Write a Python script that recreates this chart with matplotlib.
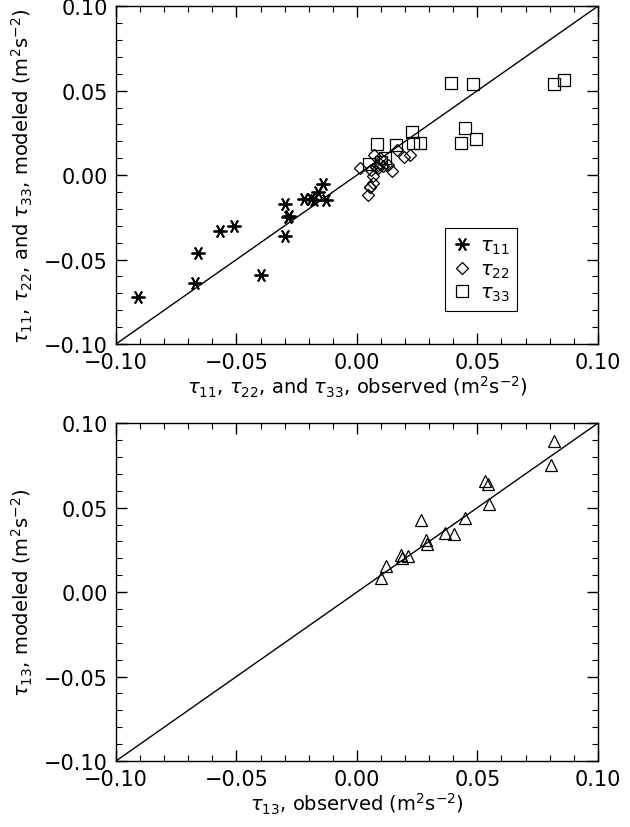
import matplotlib
matplotlib.use("Agg")
import matplotlib.pyplot as plt
from matplotlib.ticker import MultipleLocator

# tau_11, tau_22, tau_33: observed vs modeled
x11 = [-0.091, -0.067, -0.066, -0.057, -0.051, -0.040, -0.030, -0.030,
       -0.0285, -0.028, -0.022, -0.019, -0.018, -0.016, -0.014, -0.013]
y11 = [-0.072, -0.064, -0.046, -0.033, -0.030, -0.059, -0.036, -0.017,
       -0.025, -0.024, -0.014, -0.014, -0.015, -0.010, -0.0055, -0.015]

x22 = [0.0014, 0.007, 0.0058, 0.0068, 0.0065, 0.0054, 0.0047, 0.0055, 0.0079,
       0.0095, 0.0109, 0.013, 0.0144, 0.0168, 0.0195, 0.022, 0.0095, 0.0088]
y22 = [0.0045, 0.0118, 0.0031, -0.0004, -0.0047, -0.0073, -0.0117, -0.0068,
       0.0051, 0.0065, 0.0055, 0.0059, 0.0024, 0.0148, 0.0107, 0.012, 0.0099, 0.0040]

x33 = [0.039, 0.048, 0.082, 0.086, 0.045, 0.0433, 0.0495, 0.023, 0.0234,
       0.0263, 0.0164, 0.0084, 0.005, 0.0116, 0.0102]
y33 = [0.0544, 0.054, 0.054, 0.0564, 0.0278, 0.0193, 0.0211, 0.0253, 0.0189,
       0.0189, 0.0179, 0.0185, 0.0067, 0.0099, 0.0075]

# tau_13
x13 = [0.0816, 0.0805, 0.053, 0.0544, 0.0548, 0.0447, 0.0264, 0.0367,
       0.0403, 0.0285, 0.0289, 0.0185, 0.0213, 0.0189, 0.0121, 0.0102]
y13 = [0.0895, 0.0753, 0.0655, 0.0639, 0.052, 0.0436, 0.0426, 0.0349,
       0.0341, 0.031, 0.0282, 0.0219, 0.0215, 0.0199, 0.0156, 0.0081]

lims = [-0.10, 0.10]
ticks = [-0.10, -0.05, 0.00, 0.05, 0.10]
tick_labels = ["\u22120.10", "\u22120.05", "0.00", "0.05", "0.10"]
unit = r"(m$^2$s$^{-2}$)"

plt.rcParams["font.family"] = "DejaVu Sans"
plt.rcParams["mathtext.fontset"] = "dejavusans"

fig = plt.figure(figsize=(6.3, 8.28), dpi=100)
ax1 = fig.add_axes([0.184, 0.5833, 0.765, 0.408])
ax2 = fig.add_axes([0.184, 0.0797, 0.765, 0.408])


def style(ax):
    ax.set_xlim(lims)
    ax.set_ylim(lims)
    ax.plot(lims, lims, color="black", lw=1.0)
    ax.set_xticks(ticks)
    ax.set_yticks(ticks)
    ax.set_xticklabels(tick_labels)
    ax.set_yticklabels(tick_labels)
    ax.xaxis.set_minor_locator(MultipleLocator(0.01))
    ax.yaxis.set_minor_locator(MultipleLocator(0.01))
    ax.tick_params(which="both", direction="in", top=True, right=True,
                   labelsize=15, pad=6)
    ax.tick_params(which="major", length=8, width=1)
    ax.tick_params(which="minor", length=4, width=0.8)
    for s in ax.spines.values():
        s.set_linewidth(1.0)


style(ax1)
ax1.plot(x11, y11, ls="none", marker=(6, 2, 90), ms=10, mew=1.3,
         color="black", label=r"$\tau_{11}$")
ax1.plot(x22, y22, ls="none", marker="D", ms=6.5, mew=0.9, mfc="none",
         color="black", label=r"$\tau_{22}$")
ax1.plot(x33, y33, ls="none", marker="s", ms=9, mew=0.9, mfc="none",
         color="black", label=r"$\tau_{33}$")
ax1.set_xlabel(r"$\tau_{11}$, $\tau_{22}$, and $\tau_{33}$, observed " + unit,
               fontsize=14, labelpad=1)
ax1.set_ylabel(r"$\tau_{11}$, $\tau_{22}$, and $\tau_{33}$, modeled " + unit,
               fontsize=14, labelpad=6)
leg = ax1.legend(loc="lower left", bbox_to_anchor=(0.662, 0.07), fontsize=14,
                 handlelength=1.0, handletextpad=0.4, borderpad=0.4,
                 labelspacing=0.15, fancybox=False, framealpha=1)
leg.get_frame().set_edgecolor("black")
leg.get_frame().set_linewidth(0.8)

style(ax2)
ax2.plot(x13, y13, ls="none", marker="^", ms=9, mew=0.9, mfc="none",
         color="black")
ax2.set_xlabel(r"$\tau_{13}$, observed " + unit, fontsize=14, labelpad=1)
ax2.set_ylabel(r"$\tau_{13}$, modeled " + unit, fontsize=14, labelpad=6)

fig.savefig("out.png", dpi=100)
